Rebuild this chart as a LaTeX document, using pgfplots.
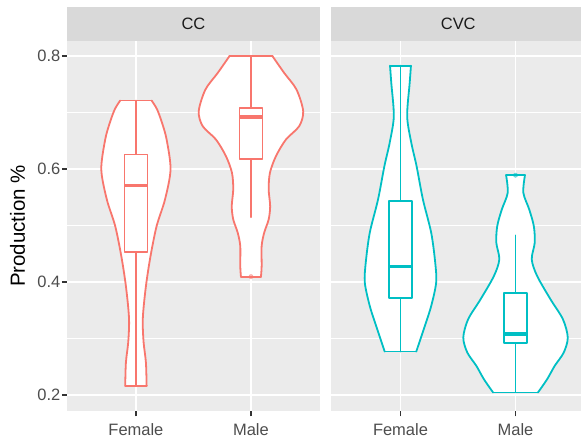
\documentclass[border=0pt]{standalone}
\usepackage{fontspec}
\setmainfont{Liberation Sans}
\usepackage{pgfplots}
\pgfplotsset{compat=1.18}
\usepackage{pgfplotstable}
\usepgfplotslibrary{fillbetween}
\definecolor{ccred}{HTML}{F8766D}
\definecolor{cvcteal}{HTML}{00BFC4}
\definecolor{panelbg}{HTML}{EBEBEB}
\definecolor{stripbg}{HTML}{D9D9D9}
\definecolor{tickgray}{HTML}{4D4D4D}
\definecolor{tickmark}{HTML}{333333}
\definecolor{striptext}{HTML}{1A1A1A}

% violin half-widths (category units) at production values
\pgfplotstableread{
v hw
0.7206 0.137
0.7050 0.184
0.6812 0.227
0.6517 0.267
0.5988 0.301
0.5458 0.253
0.4987 0.180
0.4457 0.127
0.3988 0.091
0.3575 0.068
0.3281 0.059
0.2928 0.067
0.2575 0.087
0.2163 0.093
}\ccF
\pgfplotstableread{
v hw
0.7988 0.188
0.7694 0.289
0.7400 0.396
0.7017 0.454
0.6752 0.419
0.6517 0.304
0.6222 0.217
0.5929 0.165
0.5635 0.154
0.5340 0.167
0.5105 0.154
0.4870 0.115
0.4634 0.093
0.4281 0.093
0.4094 0.087
}\ccM
\pgfplotstableread{
v hw
0.7823 0.091
0.7518 0.080
0.6929 0.058
0.6459 0.094
0.6046 0.140
0.5458 0.195
0.4870 0.267
0.4340 0.302
0.3988 0.310
0.3575 0.267
0.3163 0.202
0.2769 0.137
}\cvcF
\pgfplotstableread{
v hw
0.5887 0.082
0.5576 0.068
0.5282 0.119
0.4987 0.159
0.4694 0.167
0.4399 0.141
0.4104 0.188
0.3693 0.304
0.3340 0.412
0.3017 0.454
0.2752 0.419
0.2515 0.340
0.2281 0.275
0.2046 0.195
}\cvcM

\pgfplotsset{
  panel/.style={
    set layers,
    scale only axis, height=371bp,
    ymin=0.1713, ymax=0.8260, xmin=0.4,
    axis background/.style={fill=panelbg},
    axis line style={draw=none},
    xtick={1,2}, xticklabels={Female,Male},
    ytick={0.2,0.4,0.6,0.8}, yticklabels={0.2,0.4,0.6,0.8},
    minor ytick={0.3,0.5,0.7},
    xmajorgrids, ymajorgrids, yminorgrids,
    major grid style={white, line width=1.9bp},
    minor grid style={white, line width=0.95bp},
    tick align=outside, major tick length=5bp, minor tick length=0pt,
    tick pos=left,
    tick style={tickmark, line width=1.9bp},
    ticklabel style={font=\fontsize{16.5bp}{18bp}\selectfont, text=tickgray},
    xticklabel style={yshift=-4bp},
    yticklabel style={xshift=2bp},
    /pgf/number format/assume math mode=true,
  },
  vl/.style={line width=1.8bp, line cap=round, line join=round},
  med/.style={line width=3.6bp},
}

\newcommand{\violin}[4]{%
  \addplot[name path=#4L, draw=#3, vl, smooth] table[x expr={#2-\thisrow{hw}}, y=v] {#1};
  \addplot[name path=#4R, draw=#3, vl, smooth] table[x expr={#2+\thisrow{hw}}, y=v] {#1};
  \addplot[white] fill between[of=#4L and #4R, reverse=true];
}

\begin{document}
\begin{tikzpicture}
\path (0,0) rectangle (582bp,441bp);

\begin{axis}[panel, width=253.5bp, xmax=2.6, at={(67bp,29bp)}, anchor=south west, name=p1]
  \violin{\ccF}{1}{ccred}{ccf}
  \addplot[ccred, vl] coordinates {(0.863,0.7206) (1.137,0.7206)};
  \addplot[ccred, vl] coordinates {(0.907,0.2163) (1.093,0.2163)};
  \violin{\ccM}{2}{ccred}{ccm}
  \addplot[ccred, vl] coordinates {(1.812,0.7988) (2.188,0.7988)};
  \addplot[ccred, vl] coordinates {(1.913,0.4094) (2.087,0.4094)};
  % boxplots
  \addplot[ccred, vl] coordinates {(1,0.2163) (1,0.4535)};
  \addplot[ccred, vl] coordinates {(1,0.6252) (1,0.7206)};
  \addplot[ccred, vl, fill=white] coordinates {(0.9,0.4535) (1.1,0.4535) (1.1,0.6252) (0.9,0.6252)} -- cycle;
  \addplot[ccred, med] coordinates {(0.9,0.5705) (1.1,0.5705)};
  \addplot[ccred, vl] coordinates {(2,0.5146) (2,0.6176)};
  \addplot[ccred, vl] coordinates {(2,0.7077) (2,0.7988)};
  \addplot[ccred, vl, fill=white] coordinates {(1.9,0.6176) (2.1,0.6176) (2.1,0.7077) (1.9,0.7077)} -- cycle;
  \addplot[ccred, med] coordinates {(1.9,0.6911) (2.1,0.6911)};
  \addplot[only marks, mark=*, mark size=2.2bp, ccred, opacity=0.5] coordinates {(2,0.4094)};
\end{axis}

\begin{axis}[panel, width=250bp, xmax=2.5696, at={(332bp,29bp)}, anchor=south west, name=p2,
  yticklabels={}, ytick style={draw=none}]
  \violin{\cvcF}{1}{cvcteal}{cvf}
  \addplot[cvcteal, vl] coordinates {(0.909,0.7823) (1.091,0.7823)};
  \addplot[cvcteal, vl] coordinates {(0.863,0.2769) (1.137,0.2769)};
  \violin{\cvcM}{2}{cvcteal}{cvm}
  \addplot[cvcteal, vl] coordinates {(1.918,0.5887) (2.082,0.5887)};
  \addplot[cvcteal, vl] coordinates {(1.805,0.2046) (2.195,0.2046)};
  % boxplots
  \addplot[cvcteal, vl] coordinates {(1,0.2769) (1,0.3723)};
  \addplot[cvcteal, vl] coordinates {(1,0.5429) (1,0.7823)};
  \addplot[cvcteal, vl, fill=white] coordinates {(0.9,0.3723) (1.1,0.3723) (1.1,0.5429) (0.9,0.5429)} -- cycle;
  \addplot[cvcteal, med] coordinates {(0.9,0.4270) (1.1,0.4270)};
  \addplot[cvcteal, vl] coordinates {(2,0.2046) (2,0.2916)};
  \addplot[cvcteal, vl] coordinates {(2,0.3811) (2,0.4822)};
  \addplot[cvcteal, vl, fill=white] coordinates {(1.9,0.2916) (2.1,0.2916) (2.1,0.3811) (1.9,0.3811)} -- cycle;
  \addplot[cvcteal, med] coordinates {(1.9,0.3075) (2.1,0.3075)};
  \addplot[only marks, mark=*, mark size=2.2bp, cvcteal, opacity=0.5] coordinates {(2,0.5887)};
\end{axis}

% facet strips
\fill[stripbg] (67bp,400bp) rectangle (320.5bp,433.7bp);
\node[text=striptext, font=\fontsize{16.5bp}{18bp}\selectfont] at (193.75bp,417bp) {CC};
\fill[stripbg] (332bp,400bp) rectangle (582bp,433.7bp);
\node[text=striptext, font=\fontsize{16.5bp}{18bp}\selectfont] at (459bp,417bp) {CVC};
% y axis title
\node[rotate=90, font=\fontsize{20.5bp}{22bp}\selectfont] at (17.5bp,214.5bp) {Production \%};
\end{tikzpicture}
\end{document}
